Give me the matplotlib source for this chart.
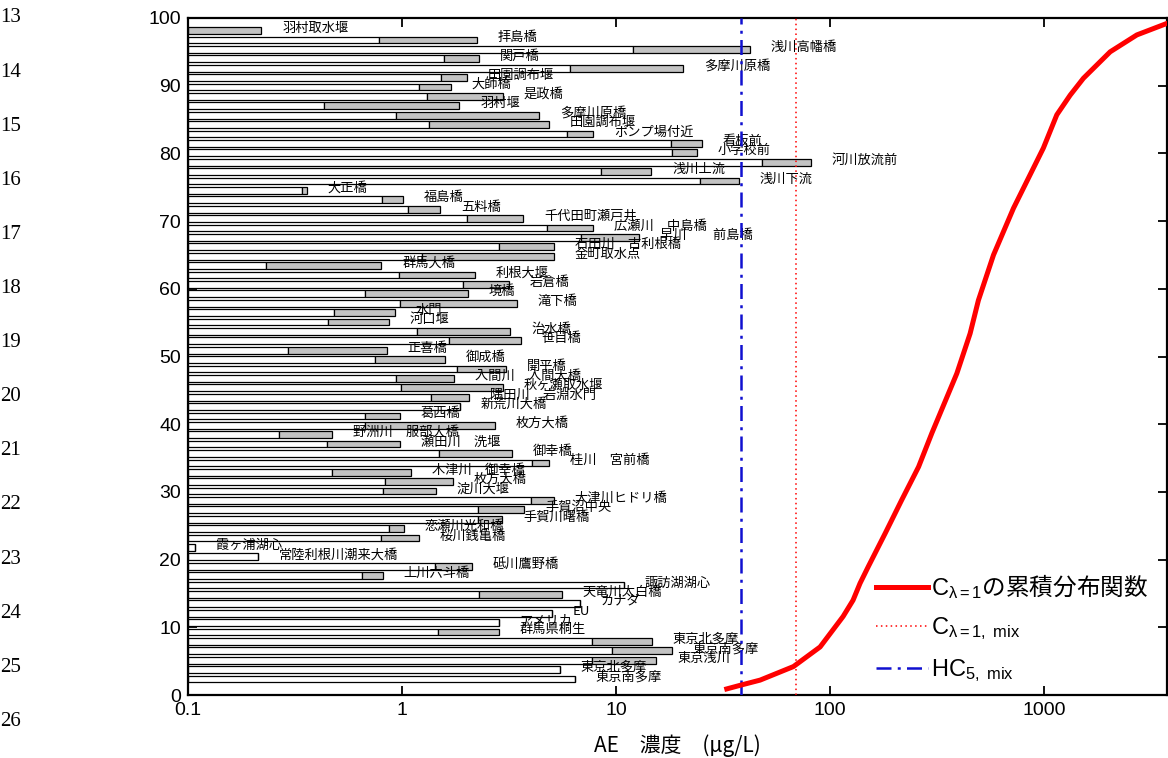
import numpy as np
import matplotlib
matplotlib.use("Agg")
import matplotlib.pyplot as plt
from matplotlib.lines import Line2D
from matplotlib.ticker import NullLocator

# ---------------- data ----------------
sites = [
    "羽村取水堰", "拝島橋", "浅川高幡橋", "関戸橋", "多摩川原橋", "田園調布堰", "大師橋",
    "是政橋", "羽村堰", "多摩川原橋", "田園調布堰", "ポンプ場付近", "看板前", "小学校前",
    "河川放流前", "浅川上流", "浅川下流", "大正橋", "福島橋", "五料橋", "千代田町瀬戸井",
    "広瀬川　中島橋", "早川　　前島橋", "石田川　古利根橋", "金町取水点", "群馬大橋",
    "利根大堰", "岩倉橋", "境橋", "滝下橋", "水門", "河口堰", "治水橋", "笹目橋", "正喜橋",
    "御成橋", "開平橋", "入間川　入間大橋", "秋ヶ瀬取水堰", "隅田川　岩淵水門", "新荒川大橋",
    "葛西橋", "枚方大橋", "野洲川　服部大橋", "瀬田川　洗堰", "御幸橋", "桂川　宮前橋",
    "木津川　御幸橋", "枚方大橋", "淀川大堰", "大津川ヒドリ橋", "手賀沼中央", "手賀川曙橋",
    "恋瀬川光和橋", "桜川銭亀橋", "霞ヶ浦湖心", "常陸利根川潮来大橋", "砥川鷹野橋",
    "上川六斗橋", "諏訪湖湖心", "天竜川太白橋", "カナダ", "EU", "アメリカ", "群馬県桐生",
    "東京北多摩", "東京南多摩", "東京浅川", "東京北多摩", "東京南多摩",
]
conc_min = [
    0.1, 0.78, 12.0, 1.57, 6.10, 1.52, 1.20, 1.31, 0.432, 0.937, 1.34, 5.90, 18.1, 18.3,
    48.1, 8.51, 24.7, 0.341, 0.807, 1.07, 2.01, 4.76, 6.86, 2.83, 1.24, 0.232, 0.964, 1.93,
    0.674, 0.974, 0.483, 0.450, 1.18, 1.66, 0.293, 0.751, 1.80, 0.941, 0.989, 1.36, 1.87,
    0.674, 0.674, 0.265, 0.447, 1.49, 4.05, 0.471, 0.833, 0.817, 4.02, 2.26, 2.26, 0.866,
    0.801, 0.108, 0.213, 1.42, 0.649, 10.9, 2.28, 6.76, 5.01, 2.83, 1.47, 7.73, 9.56, 7.73,
    5.47, 6.43,
]
conc_max = [
    0.22, 2.24, 42.3, 2.29, 20.6, 2.01, 1.69, 2.96, 1.85, 4.37, 4.86, 7.81, 25.2, 23.9,
    81.5, 14.6, 37.6, 0.360, 1.01, 1.51, 3.68, 7.81, 12.8, 5.13, 5.13, 0.801, 2.19, 3.17,
    2.03, 3.45, 0.927, 0.866, 3.20, 3.59, 0.849, 1.58, 3.05, 1.75, 2.96, 2.05, 1.87,
    0.979, 2.72, 0.471, 0.979, 3.26, 4.88, 1.10, 1.73, 1.44, 5.13, 3.73, 2.94, 1.02,
    1.20, 0.108, 0.213, 2.12, 0.811, 10.9, 5.58, 6.76, 5.01, 2.83, 2.83, 14.7, 18.2, 15.4,
    5.47, 6.43,
]
# cumulative distribution of C(lambda=1)
cdf_conc = [32.9, 38.7, 47.1, 67.4, 89.8, 115, 128, 138, 151, 181, 216, 259, 299, 391,
            451, 493, 580, 719, 992, 1146, 1323, 1526, 2034, 2711, 3745]
cdf_pct = [0.9, 1.5, 2.2, 4.2, 7.1, 11.6, 14.0, 16.5, 19.0, 23.9, 28.8, 33.7, 38.7, 47.5,
           53.4, 58.3, 65.0, 71.9, 80.8, 85.7, 88.6, 91.1, 95.0, 97.5, 99.2]
hc5_mix = 38.4
c_mix = 69.4
xticks = [0.1, 1, 10, 100, 1000]
xtick_labels = ["0.1", "1", "10", "100", "1000"]
yticks = [0, 10, 20, 30, 40, 50, 60, 70, 80, 90, 100]
legend_labels = [r"$\mathrm{C_{\lambda=1}}$の累積分布関数",
                 r"$\mathrm{C_{\lambda=1,\ mix}}$",
                 r"$\mathrm{HC_{5,\ mix}}$"]
line_numbers = list(range(13, 28))
xlabel = "AE　濃度　(μg/L)"

# ---------------- style ----------------
CJK = ["Noto Sans CJK JP", "DejaVu Sans"]
plt.rcParams["font.family"] = ["Liberation Sans", "DejaVu Sans"]
plt.rcParams["mathtext.fontset"] = "custom"
plt.rcParams["mathtext.rm"] = "Liberation Sans"
plt.rcParams["mathtext.it"] = "Liberation Sans:italic"

W, H = 1168, 758
fig = plt.figure(figsize=(W / 100, H / 100), dpi=100)
left_px, right_px, top_px, bot_px = 188, 1167, 18, 695
ax = fig.add_axes([left_px / W, 1 - bot_px / H, (right_px - left_px) / W, (bot_px - top_px) / H])
ax.set_xscale("log")

n = len(sites)
ypos = 2.36 + 1.388 * np.arange(n)[::-1]
mins = np.array(conc_min)
maxs = np.array(conc_max)
x0 = 0.1
ax.barh(ypos, mins - x0, left=x0, height=1.0, color="white", edgecolor="black",
        linewidth=0.9, zorder=2)
ax.barh(ypos, maxs - mins, left=mins, height=1.0, color="#c3c3c3", edgecolor="black",
        linewidth=0.9, zorder=2)

for y, mx, name in zip(ypos, maxs, sites):
    ax.annotate(name, (mx, y), xytext=(15, 1.5), textcoords="offset points",
                ha="left", va="center", fontsize=9.5, family=CJK, zorder=3)

ax.axvline(hc5_mix, color="#1010d0", ls=(0, (6, 2.5, 1.2, 2.5)), lw=1.8, zorder=4)
ax.axvline(c_mix, color="red", ls=(0, (1, 2.2)), lw=1.1, zorder=4)
ax.plot(cdf_conc, cdf_pct, color="red", lw=3.6, zorder=5)

ax.set_xlim(0.1, 3750)
ax.set_ylim(0, 100)
ax.set_xticks(xticks)
ax.set_xticklabels(xtick_labels)
ax.xaxis.set_minor_locator(NullLocator())
ax.set_yticks(yticks)
ax.tick_params(direction="in", length=6.5, width=1.3, top=True, right=True,
               labelsize=14, pad=5)
for s in ax.spines.values():
    s.set_linewidth(1.6)
ax.set_xlabel(xlabel, family=CJK, fontsize=15, labelpad=11)

handles = [Line2D([], [], color="red", lw=3.6),
           Line2D([], [], color="red", ls=(0, (1, 2.2)), lw=1.1),
           Line2D([], [], color="#1010d0", ls=(0, (6, 2.5, 1.2, 2.5)), lw=1.8)]
ax.legend(handles, legend_labels, loc="upper left",
          bbox_to_anchor=((876 - left_px) / (right_px - left_px), (bot_px - 572) / (bot_px - top_px)),
          frameon=False, borderpad=0, borderaxespad=0, handlelength=2.2,
          handletextpad=0.15, labelspacing=0.62, prop={"family": CJK, "size": 17})

for k, num in enumerate(line_numbers):
    fig.text(21 / W, 1 - (18 + 54.1 * k) / H, str(num), ha="right", va="center",
             family=["Liberation Serif", "DejaVu Serif"], fontsize=15)

fig.savefig("out.png", dpi=100)
